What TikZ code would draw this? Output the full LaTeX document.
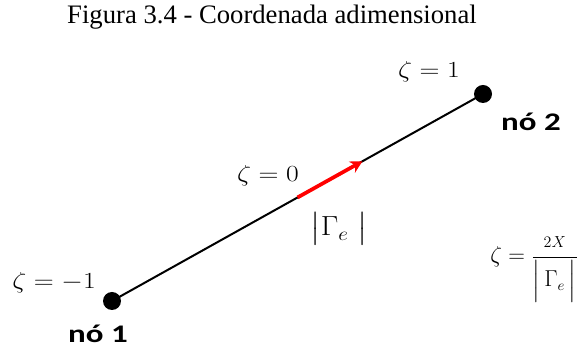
\documentclass[tikz,border=0pt]{standalone}
\usepackage{amsmath}
\usepackage{fontspec}
\setmainfont{Liberation Serif}
\newfontfamily\calib{Carlito}
\usetikzlibrary{calc,arrows.meta}
\begin{document}
\begin{tikzpicture}[x=0.75pt,y=-0.75pt,
  lbl/.style={inner sep=0pt,font=\fontsize{17}{20}\selectfont},
  nolbl/.style={inner sep=0pt,font=\calib\bfseries\fontsize{19}{22}\selectfont},
  dotn/.style={circle,fill=black,minimum size=13.5pt,inner sep=0pt},
  elem/.style={line width=1.5pt,black},
  dirarrow/.style={line width=2.8pt,red,-{Stealth[length=9pt,width=9.5pt]}}]
\useasboundingbox (0,0) rectangle (579,348);
\node[inner sep=0pt,anchor=base,font=\fontsize{20}{24}\selectfont] (title) at (272,24) {Figura 3.4 - Coordenada adimensional};
\node[dotn] (n1) at (112,301) {};
\node[dotn] (n2) at (483,94) {};
\draw[elem] (n1.center) -- (n2.center);
\coordinate (a0) at ($(n1.center)!0.5!(n2.center)$);
\coordinate (a1) at ($(n1.center)!0.675!(n2.center)$);
\draw[dirarrow] (a0) -- (a1);
\node[lbl] (z1) at (429,72) {\scalebox{1.2}[1]{$\zeta = 1$}};
\node[nolbl] (t2) at (531,122) {\scalebox{1.3}[1]{nó 2}};
\node[lbl] (z0) at (268,176) {\scalebox{1.2}[1]{$\zeta = 0$}};
\node[inner sep=0pt,font=\fontsize{20}{24}\selectfont] (g) at (339,229) {\scalebox{1.1}[1]{$\bigl|\Gamma_e\;\bigr|$}};
\node[lbl] (zm1) at (54,283) {\scalebox{1.2}[1]{$\zeta = -1$}};
\node[nolbl] (t1) at (98,334) {\scalebox{1.3}[1]{nó 1}};
\node[inner sep=0pt,font=\fontsize{16}{19}\selectfont,anchor=base west] (f) at (490,263) {$\zeta = \dfrac{\mbox{\fontsize{13}{15}\selectfont$2X$}}{\Bigl|\,\Gamma_e\,\Bigr|}$};
\end{tikzpicture}
\end{document}
